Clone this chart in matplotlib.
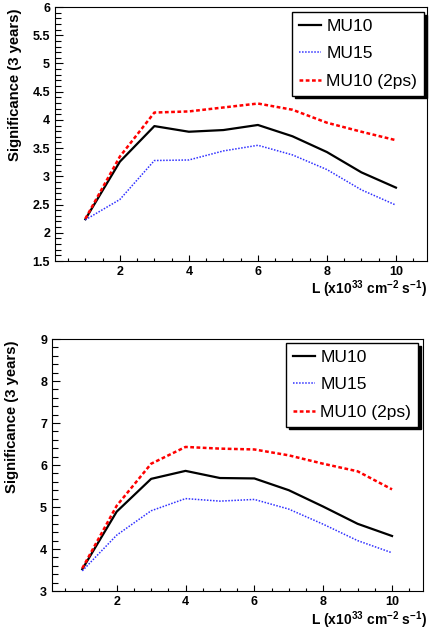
import numpy as np
import matplotlib
matplotlib.use("Agg")
from matplotlib import pyplot as plt
from matplotlib.ticker import MultipleLocator, FormatStrFormatter

plt.rcParams['font.family'] = ['Liberation Sans', 'DejaVu Sans']
plt.rcParams['mathtext.fontset'] = 'custom'
plt.rcParams['mathtext.bf'] = 'Liberation Sans:bold'
plt.rcParams['mathtext.rm'] = 'Liberation Sans:bold'

# luminosity points (x10^33)
lumi = [1, 2, 3, 4, 5, 6, 7, 8, 9, 10]

# top panel
top_mu10 = [2.24, 3.26, 3.89, 3.79, 3.82, 3.91, 3.71, 3.43, 3.07, 2.80]
top_mu15 = [2.23, 2.59, 3.28, 3.29, 3.45, 3.55, 3.38, 3.12, 2.76, 2.49]
top_mu10_2ps = [2.25, 3.35, 4.13, 4.15, 4.22, 4.29, 4.18, 3.95, 3.79, 3.64]

# bottom panel
bot_mu10 = [3.52, 4.89, 5.67, 5.86, 5.69, 5.68, 5.40, 5.01, 4.60, 4.31]
bot_mu15 = [3.48, 4.33, 4.91, 5.20, 5.14, 5.18, 4.95, 4.59, 4.20, 3.91]
bot_mu10_2ps = [3.54, 5.03, 6.03, 6.43, 6.39, 6.37, 6.23, 6.03, 5.85, 5.42]

labels = ['MU10', 'MU15', 'MU10 (2ps)']

W, H = 429, 630
fig = plt.figure(figsize=(W / 100, H / 100), dpi=100)


def panel(rect, s10, s15, s2ps, ylim, ymaj, ymin, xlab_y, leg_corner):
    ax = fig.add_axes(rect)
    ax.plot(lumi, s10, color='black', lw=1.6, label=labels[0])
    ax.plot(lumi, s15, color='#3030ff', lw=1.1, ls=(0, (1, 1)), label=labels[1])
    ax.plot(lumi, s2ps, color='#ff0000', lw=1.8, ls=(0, (1.5, 1)), label=labels[2])
    ax.set_xlim(0.12, 10.9)
    ax.set_ylim(*ylim)
    ax.xaxis.set_major_locator(MultipleLocator(2))
    ax.xaxis.set_minor_locator(MultipleLocator(0.5))
    ax.yaxis.set_major_locator(MultipleLocator(ymaj))
    ax.yaxis.set_minor_locator(MultipleLocator(ymin))
    ax.yaxis.set_major_formatter(FormatStrFormatter('%g'))
    ax.tick_params(which='both', direction='in', top=False, right=False, width=0.8)
    ax.tick_params(axis='x', which='major', length=4.5)
    ax.tick_params(axis='x', which='minor', length=2.5)
    ax.tick_params(axis='y', which='major', length=6)
    ax.tick_params(axis='y', which='minor', length=4.3)
    ax.tick_params(labelsize=9)
    for t in ax.get_xticklabels() + ax.get_yticklabels():
        t.set_fontweight('bold')
    ax.set_ylabel('Significance (3 years)', fontsize=10.7, fontweight='bold', loc='top')
    ax.yaxis.set_label_coords(-0.09, 0.995)
    fig.text(0.995, xlab_y, r'L (x10$^{33}$ cm$^{-2}$ s$^{-1}$)',
             ha='right', va='center', fontsize=10, fontweight='bold')
    leg = ax.legend(loc='upper right', bbox_to_anchor=leg_corner, bbox_transform=fig.transFigure,
                    frameon=True, fancybox=False, edgecolor='black',
                    framealpha=1, fontsize=12.5, handlelength=1.25, handletextpad=0.3,
                    labelspacing=0.7, borderaxespad=0, borderpad=0.4,
                    shadow={'ox': 2, 'oy': -2, 'facecolor': 'black', 'edgecolor': 'black', 'alpha': 1})
    leg.get_frame().set_linewidth(1.0)
    return ax


# axes rectangles in figure fractions from pixel positions
def rect(l, t, r, b):
    return [l / W, 1 - b / H, (r - l) / W, (b - t) / H]


panel(rect(55, 7, 427, 261), top_mu10, top_mu15, top_mu10_2ps,
      (1.5, 6), 0.5, 0.1, 1 - 289 / H, (424 / W, 1 - 12 / H))
panel(rect(52, 339, 423, 591), bot_mu10, bot_mu15, bot_mu10_2ps,
      (3, 9), 1, 0.2, 1 - 620 / H, (418 / W, 1 - 343 / H))

fig.savefig('out.png', dpi=100)
